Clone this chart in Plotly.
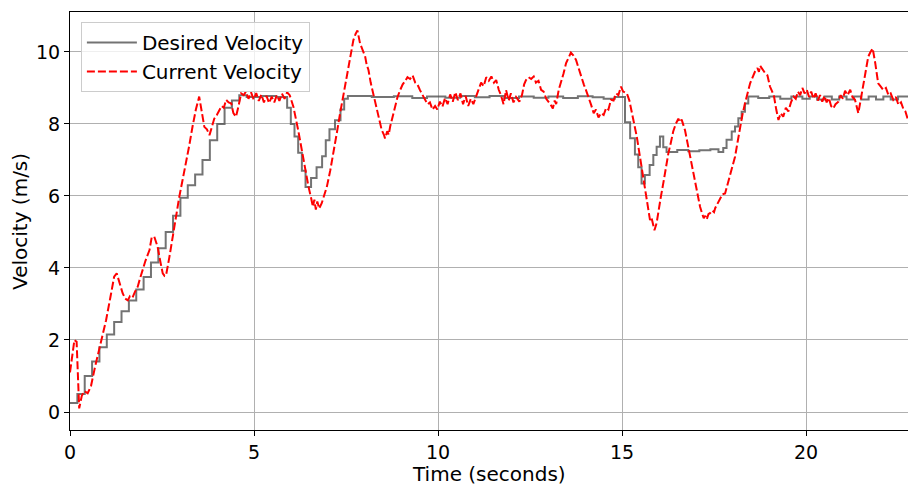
import plotly.graph_objects as go

# Desired velocity: step breakpoints (time in s, velocity in m/s)
desired_t = [0.0, 0.2, 0.4, 0.6, 0.8, 1.0, 1.2, 1.4, 1.6, 1.8, 2.0, 2.2, 2.4, 2.6, 2.8, 3.0, 3.2, 3.4,
             3.6, 3.8, 4.0, 4.2, 4.4, 4.6, 4.8, 5.2, 5.6, 5.9, 6.0, 6.1, 6.2, 6.3, 6.4, 6.55, 6.7,
             6.85, 6.95, 7.05, 7.2, 7.35, 7.45, 7.55, 8.2, 8.8, 9.3, 9.7, 10.2, 10.6, 11.0, 11.4,
             11.8, 12.2, 12.6, 13.0, 13.4, 13.8, 14.2, 14.5, 14.8, 15.08, 15.22, 15.35, 15.44,
             15.53, 15.62, 15.75, 15.85, 15.94, 16.03, 16.12, 16.21, 16.5, 16.8, 17.1, 17.4,
             17.62, 17.75, 17.84, 17.98, 18.07, 18.16, 18.25, 18.34, 18.43, 18.7, 19.0, 19.3,
             19.6, 19.9, 20.1, 20.3, 20.5, 20.7, 20.9, 21.1, 21.3, 21.5, 21.7, 21.9, 22.1, 22.3,
             22.5, 22.77]
desired_v = [0.25, 0.50, 1.00, 1.40, 1.80, 2.15, 2.50, 2.80, 3.10, 3.40, 3.75, 4.15, 4.55, 5.00,
             5.45, 5.95, 6.30, 6.60, 7.00, 7.55, 8.00, 8.45, 8.65, 8.80, 8.75, 8.78, 8.75, 8.45,
             8.00, 7.65, 7.20, 6.70, 6.25, 6.50, 6.80, 7.10, 7.55, 7.85, 8.10, 8.40, 8.70, 8.78,
             8.75, 8.77, 8.72, 8.76, 8.73, 8.78, 8.74, 8.78, 8.72, 8.76, 8.73, 8.76, 8.72, 8.77,
             8.74, 8.70, 8.75, 8.05, 7.60, 7.15, 6.80, 6.35, 6.58, 6.86, 7.14, 7.37, 7.65, 7.35,
             7.22, 7.28, 7.24, 7.27, 7.30, 7.22, 7.33, 7.56, 7.79, 7.93, 8.16, 8.34, 8.57, 8.76,
             8.72, 8.76, 8.70, 8.76, 8.70, 8.76, 8.68, 8.76, 8.68, 8.76, 8.68, 8.76, 8.68, 8.76,
             8.68, 8.76, 8.68, 8.76, 8.76]

# Current velocity samples (time in s, velocity in m/s)
current_t = [0.00, 0.06, 0.12, 0.18, 0.25, 0.32, 0.39, 0.48, 0.57, 0.68, 0.80, 0.90, 0.98, 1.10,
             1.20, 1.27, 1.35, 1.43, 1.50, 1.57, 1.63, 1.70, 1.77, 1.84, 1.90, 1.97, 2.05, 2.16,
             2.22, 2.29, 2.34, 2.38, 2.45, 2.52, 2.57, 2.61, 2.70, 2.79, 2.88, 2.97, 3.06, 3.15,
             3.24, 3.33, 3.42, 3.51, 3.58, 3.65, 3.72, 3.79, 3.85, 3.92, 3.99, 4.06, 4.12, 4.18,
             4.24, 4.31, 4.38, 4.44, 4.51, 4.58, 4.65, 4.72, 4.78, 4.85, 4.92, 4.99, 5.06, 5.13,
             5.20, 5.27, 5.34, 5.41, 5.48, 5.55, 5.62, 5.69, 5.76, 5.83, 5.90, 5.97, 6.07, 6.20,
             6.34, 6.48, 6.55, 6.60, 6.64, 6.68, 6.72, 6.77, 6.84, 6.91, 6.98, 7.07, 7.16, 7.25,
             7.34, 7.43, 7.52, 7.61, 7.70, 7.76, 7.81, 7.88, 7.95, 8.02, 8.06, 8.11, 8.17, 8.24,
             8.31, 8.38, 8.47, 8.53, 8.56, 8.62, 8.66, 8.70, 8.76, 8.83, 8.90, 8.97, 9.04, 9.10,
             9.17, 9.24, 9.31, 9.38, 9.44, 9.51, 9.58, 9.65, 9.72, 9.78, 9.85, 9.92, 9.98, 10.05,
             10.12, 10.19, 10.26, 10.33, 10.40, 10.47, 10.54, 10.61, 10.68, 10.75, 10.82, 10.89,
             10.96, 11.03, 11.10, 11.17, 11.24, 11.31, 11.38, 11.45, 11.52, 11.58, 11.65, 11.71,
             11.78, 11.85, 11.92, 11.98, 12.05, 12.12, 12.21, 12.28, 12.34, 12.39, 12.46, 12.53,
             12.60, 12.66, 12.73, 12.80, 12.87, 12.94, 13.05, 13.12, 13.17, 13.21, 13.28, 13.34,
             13.41, 13.48, 13.55, 13.61, 13.68, 13.75, 13.82, 13.89, 13.96, 14.02, 14.09, 14.16,
             14.23, 14.29, 14.36, 14.43, 14.50, 14.57, 14.63, 14.70, 14.77, 14.84, 14.90, 14.97,
             15.03, 15.13, 15.20, 15.26, 15.33, 15.40, 15.47, 15.53, 15.60, 15.67, 15.72, 15.76,
             15.80, 15.84, 15.88, 15.94, 15.99, 16.05, 16.12, 16.19, 16.26, 16.33, 16.39, 16.46,
             16.53, 16.57, 16.62, 16.71, 16.78, 16.85, 16.92, 16.98, 17.05, 17.12, 17.18, 17.22,
             17.26, 17.30, 17.35, 17.39, 17.45, 17.50, 17.53, 17.60, 17.66, 17.73, 17.80, 17.86,
             17.93, 18.00, 18.07, 18.14, 18.21, 18.27, 18.34, 18.41, 18.48, 18.55, 18.61, 18.68,
             18.72, 18.75, 18.82, 18.89, 18.95, 19.02, 19.08, 19.13, 19.19, 19.25, 19.31, 19.38,
             19.45, 19.52, 19.59, 19.66, 19.72, 19.78, 19.84, 19.90, 19.96, 20.02, 20.08, 20.14,
             20.20, 20.26, 20.32, 20.38, 20.44, 20.50, 20.56, 20.62, 20.68, 20.74, 20.80, 20.88,
             20.94, 21.00, 21.06, 21.13, 21.20, 21.26, 21.33, 21.38, 21.42, 21.49, 21.56, 21.62,
             21.69, 21.75, 21.81, 21.88, 21.96, 22.02, 22.10, 22.17, 22.24, 22.30, 22.37, 22.44,
             22.51, 22.58, 22.64, 22.70, 22.77]
current_v = [1.10, 1.60, 2.00, 1.95, 0.10, 0.45, 0.58, 0.52, 0.72, 1.25, 1.80, 2.20, 2.55, 3.20,
             3.76, 3.85, 3.60, 3.30, 3.15, 3.10, 3.22, 3.18, 3.35, 3.48, 3.70, 3.94, 4.20, 4.50,
             4.85, 4.87, 4.70, 4.59, 4.20, 3.85, 3.78, 3.80, 4.30, 4.87, 5.45, 5.98, 6.45, 6.90,
             7.40, 7.93, 8.40, 8.76, 8.35, 7.92, 7.85, 7.69, 7.90, 8.15, 8.25, 8.39, 8.50, 8.45,
             8.67, 8.60, 8.57, 8.30, 8.20, 8.50, 8.85, 8.80, 8.90, 8.70, 8.88, 8.68, 8.86, 8.64,
             8.82, 8.60, 8.78, 8.58, 8.76, 8.60, 8.80, 8.64, 8.84, 8.70, 8.88, 8.80, 8.48, 7.83,
             7.00, 6.26, 5.95, 5.70, 5.90, 5.62, 5.85, 5.65, 5.80, 6.00, 6.26, 6.70, 7.19, 7.75,
             8.30, 8.80, 9.31, 9.85, 10.33, 10.50, 10.60, 10.24, 10.05, 9.87, 9.65, 9.50, 9.15, 8.85,
             8.55, 8.20, 7.83, 7.70, 7.60, 7.80, 7.70, 7.93, 8.20, 8.48, 8.75, 8.94, 9.10, 9.18,
             9.30, 9.25, 9.35, 9.15, 9.10, 8.94, 8.78, 8.67, 8.55, 8.60, 8.40, 8.50, 8.40, 8.62,
             8.48, 8.72, 8.55, 8.82, 8.62, 8.88, 8.66, 8.85, 8.55, 8.78, 8.50, 8.70,
             8.55, 8.75, 8.95, 9.15, 9.05, 9.30, 9.20, 9.32, 9.15, 9.22, 8.95, 8.80,
             8.55, 8.94, 8.65, 8.85, 8.60, 8.75, 8.62, 8.80, 9.10, 9.22, 9.30, 9.25,
             9.32, 9.15, 9.20, 8.95, 8.90, 8.70, 8.55, 8.43, 8.65, 8.55, 8.95, 9.13,
             9.40, 9.69, 9.85, 9.98, 9.90, 9.78, 9.55, 9.31, 9.10, 8.94, 8.70, 8.53,
             8.30, 8.40, 8.18, 8.30, 8.25, 8.45, 8.40, 8.67, 8.65, 8.85, 8.80, 9.04,
             8.90, 8.85, 8.65, 8.39, 8.00, 7.65, 7.20, 6.81, 6.30, 5.89, 5.55, 5.33,
             5.40, 5.20, 5.05, 5.25, 5.52, 5.95, 6.35, 6.80, 7.19, 7.50, 7.79, 8.00,
             8.15, 8.05, 8.12, 7.83, 7.45, 7.09, 6.70, 6.35, 6.00, 5.70, 5.50, 5.38,
             5.45, 5.35, 5.50, 5.52, 5.60, 5.55, 5.66, 5.80, 5.89, 6.05, 6.07, 6.30,
             6.54, 6.80, 7.09, 7.50, 7.93, 8.25, 8.57, 8.85, 9.13, 9.30, 9.45, 9.55,
             9.45, 9.62, 9.50, 9.41, 9.35, 9.04, 8.90, 8.76, 8.40, 8.11, 8.30, 8.20,
             8.45, 8.35, 8.60, 8.76, 8.70, 8.90, 8.80, 9.00, 8.85, 8.95, 8.75, 8.90,
             8.70, 8.85, 8.65, 8.80, 8.62, 8.78, 8.60, 8.72, 8.50, 8.43, 8.55, 8.62,
             8.80, 8.70, 8.92, 8.80, 8.95, 8.75, 8.67, 8.50, 8.30, 8.70, 9.13, 9.50,
             9.87, 10.00, 10.10, 9.69, 9.13, 9.05, 8.94, 9.00, 8.80, 8.85, 8.67, 8.75,
             8.53, 8.60, 8.43, 8.35, 8.11]

x_ticks = [0, 5, 10, 15, 20]
y_ticks = [0, 2, 4, 6, 8, 10]
x_title = "Time (seconds)"
y_title = "Velocity (m/s)"

fig = go.Figure()
fig.add_trace(go.Scatter(
    x=desired_t, y=desired_v, mode="lines", name="Desired Velocity",
    line=dict(color="rgba(80,80,80,0.8)", width=2, shape="hv"),
))
fig.add_trace(go.Scatter(
    x=current_t, y=current_v, mode="lines", name="Current Velocity",
    line=dict(color="#ff0000", width=2, dash="8px,3px"),
))

font_family = "DejaVu Sans"
fig.update_layout(
    width=908, height=486,
    margin=dict(l=70, r=0, t=12, b=56, autoexpand=False),
    paper_bgcolor="white", plot_bgcolor="white",
    font=dict(family=font_family, size=19, color="black"),
    showlegend=True,
    legend=dict(
        x=0.013, y=0.976, xanchor="left", yanchor="top",
        bgcolor="rgba(255,255,255,0.8)", bordercolor="#cccccc", borderwidth=1,
        font=dict(family=font_family, size=20, color="black"),
        itemwidth=50, tracegroupgap=0,
    ),
    xaxis=dict(
        range=[0, 22.77], tickvals=x_ticks, ticktext=[str(v) for v in x_ticks],
        showgrid=True, gridcolor="#b0b0b0", gridwidth=1, zeroline=False,
        showline=True, linecolor="black", linewidth=1, mirror=True,
        ticks="outside", ticklen=5, tickcolor="black", automargin=False,
        tickfont=dict(size=19),
    ),
    yaxis=dict(
        range=[-0.5, 11.11], tickvals=y_ticks, ticktext=[str(v) for v in y_ticks],
        showgrid=True, gridcolor="#b0b0b0", gridwidth=1, zeroline=False,
        showline=True, linecolor="black", linewidth=1, mirror=True,
        ticks="outside", ticklen=5, tickcolor="black", automargin=False,
        tickfont=dict(size=19),
    ),
    annotations=[
        dict(text=x_title, xref="paper", yref="paper", x=0.5, y=-0.105,
             xanchor="center", yanchor="middle", showarrow=False,
             font=dict(family=font_family, size=20, color="black")),
        dict(text=y_title, xref="paper", yref="paper", x=-0.0597, y=0.5,
             xanchor="center", yanchor="middle", showarrow=False, textangle=-90,
             font=dict(family=font_family, size=20, color="black")),
    ],
)

fig.write_html("out.html", config={"displayModeBar": False},
               post_script="document.body.style.margin='0';document.body.style.overflow='hidden';")
